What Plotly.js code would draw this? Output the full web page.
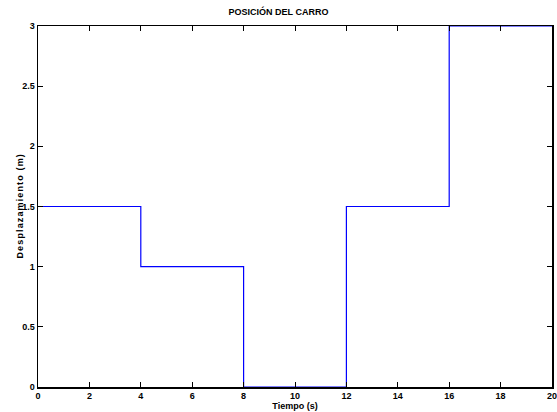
<!DOCTYPE html>
<html><head><meta charset="utf-8">
<script src="https://cdn.plot.ly/plotly-3.0.1.min.js"></script>
<style>html,body{margin:0;padding:0;background:#fff;}</style>
</head><body><div id="chart" style="width:557px;height:412px;"></div>
<script>
const tiempo = [0, 4, 8, 12, 16, 20];
const posicion = [1.5, 1, 0, 1.5, 3, 3];
const xTicks = [0, 2, 4, 6, 8, 10, 12, 14, 16, 18, 20];
const yTicks = [0, 0.5, 1, 1.5, 2, 2.5, 3];
const fam = 'Liberation Sans, Arial, sans-serif';
const fnt = {family: fam, size: 9, color: '#000', weight: 'bold'};
const yTitle = 'Desplazamiento (m)'.split('').join('<span style="font-size:4px"> </span>');
Plotly.newPlot('chart', [{
  x: tiempo, y: posicion, type: 'scatter', mode: 'lines',
  line: {shape: 'hv', color: '#0000ff', width: 1.2}
}], {
  width: 557, height: 412,
  margin: {l: 38, r: 5, t: 26, b: 25},
  paper_bgcolor: '#fff', plot_bgcolor: '#fff',
  showlegend: false,
  title: {text: '<b>POSICIÓN DEL CARRO</b>', font: {family: fam, size: 9, color: '#000'}, x: 0.5, xanchor: 'center', y: 0.971, yanchor: 'middle'},
  xaxis: {range: [0, 20], tickvals: xTicks, ticktext: xTicks.map(String), ticks: 'inside', ticklen: 5, tickcolor: '#000',
    showline: true, linecolor: '#000', linewidth: 1.5, mirror: 'allticks', showgrid: false, zeroline: false,
    ticklabeloverflow: 'allow',
    tickfont: fnt, title: {text: '<b>Tiempo (s)</b>', font: {family: fam, size: 9, color: '#000'}, standoff: 1}},
  yaxis: {range: [0, 3], tickvals: yTicks, ticktext: yTicks.map(String), ticks: 'inside', ticklen: 5, tickcolor: '#000',
    showline: true, linecolor: '#000', linewidth: 1.5, mirror: 'allticks', showgrid: false, zeroline: false,
    tickfont: fnt},
  annotations: [{text: '<b>' + yTitle + '</b>', textangle: -90, xref: 'paper', yref: 'paper', x: 0, y: 0.5,
    xanchor: 'center', yanchor: 'middle', xshift: -19, showarrow: false, font: {family: fam, size: 9, color: '#000'}}]
}, {displayModeBar: false, staticPlot: true});
</script></body></html>
